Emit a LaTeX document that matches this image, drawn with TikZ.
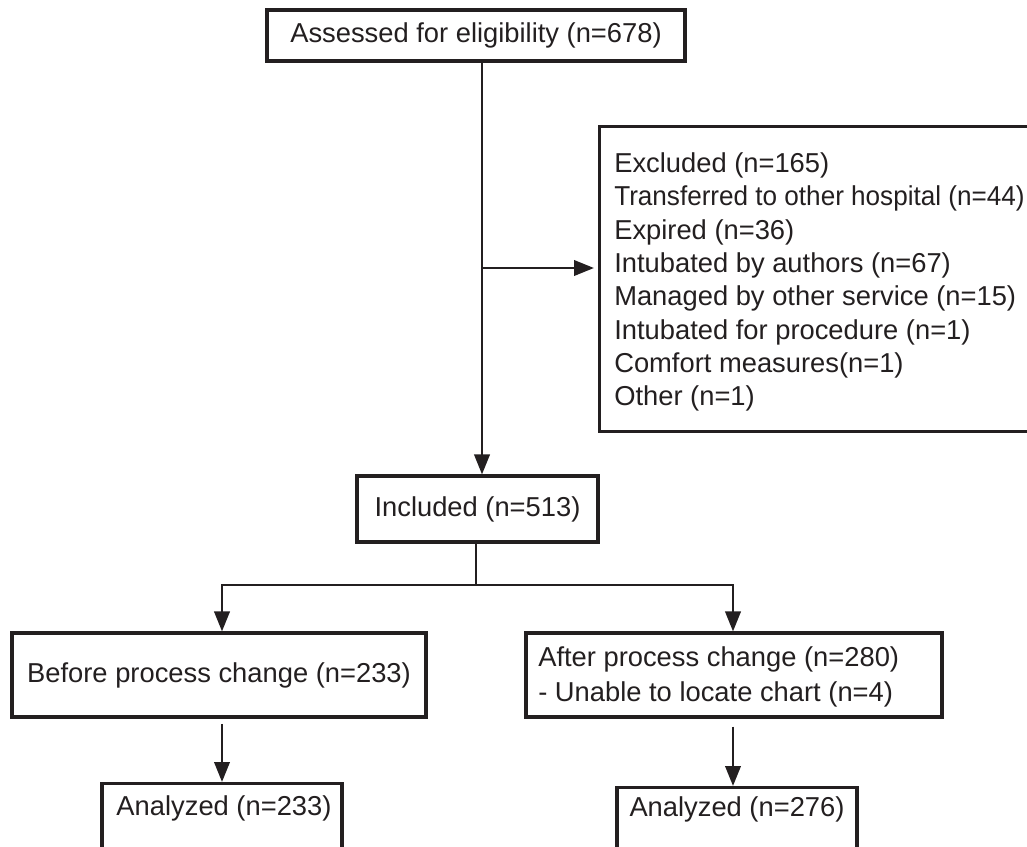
\documentclass[tikz,border=0pt]{standalone}
\usepackage{fontspec}
\usepackage{graphicx}
\setmainfont{Liberation Sans}
\usetikzlibrary{arrows.meta}
\definecolor{ink}{RGB}{35,31,32}
\begin{document}
\begin{tikzpicture}[x=0.75pt,y=-0.75pt,
  every node/.style={font=\fontsize{20.5pt}{25pt}\selectfont, text=ink},
  box/.style={draw=ink, line width=2.3pt, fill=white, inner sep=0pt},
  conn/.style={draw=ink, line width=2.1pt},
  arr/.style={conn, -{Triangle[length=15pt,width=11.5pt]}}]
\useasboundingbox (0,0) rectangle (1027,846);
\clip (0,0) rectangle (1027,846);
% boxes
\node[box, minimum width=313.5pt, minimum height=38.25pt] (top) at (476,35.5) {Assessed for eligibility (n=678)};
\node[box, minimum width=346.5pt, minimum height=228.75pt, anchor=north west] (excl) at (598,125) {};
\node[align=left, anchor=west, inner sep=0pt] (exclt) at (614,282)
  {Excluded (n=165)\\\scalebox{0.955}[1]{Transferred to other hospital (n=44)}\\Expired (n=36)\\Intubated by authors (n=67)\\Managed by other service (n=15)\\Intubated for procedure (n=1)\\Comfort measures(n=1)\\Other (n=1)};
\node[box, minimum width=180.75pt, minimum height=49.5pt] (inc) at (477.5,509) {Included (n=513)};
\node[box, minimum width=310.5pt, minimum height=63pt] (lb) at (219,675) {Before process change (n=233)};
\node[box, minimum width=312pt, minimum height=63pt] (rb) at (734,675) {};
\node[align=left, anchor=west, inner sep=0pt, font=\fontsize{20.5pt}{26pt}\selectfont] (rbt) at (538,677)
  {After process change (n=280)\\- Unable to locate chart (n=4)};
\node[box, minimum width=180pt, minimum height=75pt, anchor=north] (al) at (222,782) {};
\node (alt) at (224,808) {Analyzed (n=233)};
\node[box, minimum width=180pt, minimum height=75pt, anchor=north] (ar) at (737,786) {};
\node (art) at (737,809) {Analyzed (n=276)};
% connectors
\coordinate (j1) at (482,268);
\coordinate (j2) at (476,585);
\coordinate (cl) at (222,585);
\coordinate (cr) at (733,585);
\draw[arr] (top.south -| j1) -- (inc.north -| j1);
\draw[arr] (j1) -- ([xshift=-3pt]excl.west |- j1);
\draw[conn] (inc.south -| j2) -- (j2);
\draw[conn, line cap=rect] (cl) -- (cr);
\draw[arr] (cl) -- (cl |- lb.north);
\draw[arr] (cr) -- (cr |- rb.north);
\draw[arr, shorten <=4pt] (lb.south -| cl) -- (cl |- al.north);
\draw[arr, shorten <=6pt] (rb.south -| cr) -- (cr |- ar.north);
\end{tikzpicture}
\end{document}
